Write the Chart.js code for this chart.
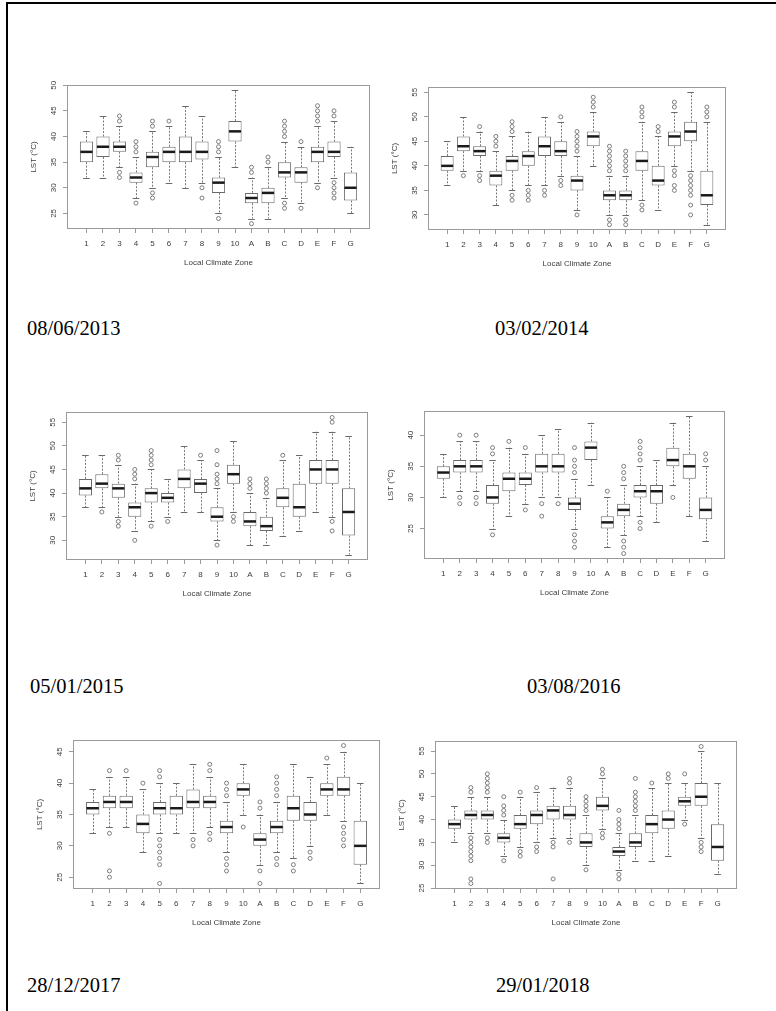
<!DOCTYPE html>
<html>
<head>
<meta charset="utf-8">
<script src="https://cdn.jsdelivr.net/npm/chart.js@4"></script>
<style>
  html, body { margin: 0; padding: 0; background: #fff; }
  body { width: 776px; height: 1011px; position: relative; overflow: hidden; }
  #ruleTop { position: absolute; left: 6px; top: 2px; width: 770px; height: 2px; background: #000; }
  #ruleLeft { position: absolute; left: 6px; top: 2px; width: 2px; height: 1009px; background: #000; }
  canvas.panel { position: absolute; filter: blur(0.3px); }
  .date { position: absolute; font-family: "Liberation Serif", "Times New Roman", serif; font-size: 20.5px; line-height: 20.5px; color: #000; white-space: nowrap; }
</style>
</head>
<body>
<div id="ruleTop"></div>
<div id="ruleLeft"></div>

<script>
// Local climate zones on the x axis
const zones = ['1', '2', '3', '4', '5', '6', '7', '8', '9', '10', 'A', 'B', 'C', 'D', 'E', 'F', 'G'];

// Land surface temperature per zone: [lower whisker, Q1, median, Q3, upper whisker]
const lst20130608 = [
  [32, 35, 37, 39, 41], [32, 36, 38, 40, 44], [34, 37, 38, 39, 42], [28, 31, 32, 33, 36],
  [30, 34, 36, 37, 41], [31, 35, 37, 38, 42], [30, 35, 37, 40, 46], [31, 35.5, 37, 39, 44],
  [25, 29, 31, 32, 36], [34, 39, 41, 43, 49], [24, 27, 28, 29, 32], [24, 27, 29, 30, 34],
  [28, 32, 33, 35, 39], [27, 31, 33, 34, 38], [31, 35, 37, 38, 42], [32, 36, 37, 39, 43],
  [25, 27.5, 30, 33, 38]
];
const out20130608 = [
  [], [], [44, 43, 33, 32], [39, 38, 37, 27], [43, 42, 29, 28], [43], [], [30, 28],
  [39, 38, 37, 24], [], [34, 33, 23], [36, 35], [43, 42, 41, 40, 27, 26], [39, 26],
  [46, 45, 44, 43, 30], [45, 44, 31, 30, 29, 28], []
];

const lst20140203 = [
  [36, 39, 40, 42, 45], [39, 43, 44, 46, 50], [39, 42, 43, 44, 47], [32, 36, 38, 39, 43],
  [35, 39, 41, 42, 46], [36, 40, 42, 43, 47], [36, 42, 44, 46, 50], [38, 42, 43, 45, 49],
  [31, 35, 37, 38, 42], [40, 44, 46, 47, 51], [30, 33, 34, 35, 38], [30, 33, 34, 35, 38],
  [33, 39, 41, 43, 49], [31, 36, 37, 40, 46], [40, 44, 46, 47, 51], [39, 45, 47, 49, 55],
  [28, 32, 34, 39, 49]
];
const out20140203 = [
  [], [38], [48, 38, 37], [46, 45, 44], [49, 48, 47, 34, 33], [35, 34, 33], [35, 34],
  [50, 37, 36], [47, 46, 45, 44, 43, 30], [54, 53, 52], [44, 43, 42, 41, 40, 39, 29, 28],
  [43, 42, 41, 40, 39, 29, 28], [52, 51, 50, 32, 31], [48, 47], [53, 52, 39, 38, 36, 35],
  [38, 37, 36, 35, 34, 32, 30], [52, 51, 50]
];

const lst20150105 = [
  [37, 39.5, 41, 43, 48], [37, 41, 42, 44, 48], [35, 39, 41, 42, 46], [32, 35, 37, 38, 42],
  [34, 38, 40, 41, 45], [35, 38, 39, 40, 43], [36, 41, 43, 45, 50], [36, 40, 42, 43, 47],
  [30, 34, 35, 37, 41], [36, 42, 44, 46, 51], [29, 33, 34, 36, 40], [29, 32, 33, 35, 39],
  [31, 37, 39, 41, 47], [32, 35, 37, 42, 48], [36, 42, 45, 47, 53], [35, 42, 45, 47, 53],
  [27, 31, 36, 41, 52]
];
const out20150105 = [
  [], [36], [48, 47, 34, 33], [45, 44, 43, 30], [49, 48, 47, 46, 33], [34], [], [48],
  [49, 46, 44, 43, 42, 29], [35, 34], [43, 42, 41], [43, 42, 41, 40], [48], [], [],
  [56, 55, 34, 32], []
];

const lst20160803 = [
  [30, 33, 34, 35, 37], [31, 34, 35, 36, 39], [31, 34, 35, 36, 39], [25, 29, 30, 32, 36],
  [27, 31, 33, 34, 38], [29, 32, 33, 34, 37], [30, 34, 35, 37, 40], [30, 34, 35, 37, 41],
  [25, 28, 29, 30, 33], [32, 36, 38, 39, 42], [22, 25, 26, 27, 30], [24, 27, 28, 29, 32],
  [27, 30, 31, 32, 35], [26, 29, 31, 32, 36], [32, 35, 36, 38, 42], [27, 33, 35, 37, 43],
  [23, 26.5, 28, 30, 35]
];
const out20160803 = [
  [], [40, 30, 29], [40, 30, 29], [38, 37, 24], [39], [38, 28], [29, 27], [29],
  [38, 36, 35, 34, 24, 23, 22], [], [31], [35, 34, 33, 23, 22, 21], [39, 38, 37, 36, 26, 25],
  [], [30], [], [37, 36]
];

const lst20171228 = [
  [32, 35, 36, 37, 39], [33, 36, 37, 38, 41], [33, 36, 37, 38, 41], [29, 32, 33.5, 35, 39],
  [32, 35, 36, 37, 40], [32, 35, 36, 38, 40], [32, 36, 37, 39, 43], [33, 36, 37, 38, 41],
  [29, 32, 33, 34, 37], [35, 38, 39, 40, 43], [27, 30, 31, 32, 35], [29, 32, 33, 34, 37],
  [28, 34, 36, 38, 43], [30, 34, 35, 37, 41], [35, 38, 39, 40, 43], [34, 38, 39, 41, 45],
  [24, 27, 30, 34, 40]
];
const out20171228 = [
  [], [42, 32, 26, 25], [42], [40], [42, 41, 31, 30, 29, 28, 27, 24], [], [31, 30],
  [43, 42, 32, 31], [40, 39, 38, 28, 27, 26], [33], [37, 36, 26, 24], [41, 40, 39, 38, 28, 27],
  [27, 26], [29, 28], [44], [46, 33, 32, 31, 30], []
];

const lst20180129 = [
  [35, 38, 39, 40, 43], [37, 40, 41, 42, 45], [37, 40, 41, 42, 45], [32, 35, 36, 37, 40],
  [34, 38, 39, 41, 45], [35, 39, 41, 42, 46], [36, 40, 42, 43, 47], [36, 40, 41, 43, 47],
  [30, 34, 35, 37, 41], [38, 42, 43, 45, 49], [29, 32, 33, 34, 37], [31, 34, 35, 37, 41],
  [31, 37, 39, 41, 47], [32, 38, 40, 42, 48], [40, 43, 44, 45, 48], [36, 43, 45, 48, 55],
  [28, 31, 34, 39, 48]
];
const out20180129 = [
  [], [47, 46, 36, 35, 34, 33, 32, 31, 27, 26], [50, 49, 48, 47, 46, 36, 35],
  [45, 43, 42, 41, 31], [46, 33, 32], [47, 34, 33], [35, 34, 27], [49, 48, 35],
  [45, 44, 43, 42, 29], [51, 50, 37, 36], [42, 40, 39, 38, 28, 27],
  [49, 46, 45, 44, 43, 42], [48], [50, 49], [50, 39], [56, 35, 34, 33], []
];

// y axis tick labels for each date
const ticks20130608 = [25, 30, 35, 40, 45, 50];
const ticks20140203 = [30, 35, 40, 45, 50, 55];
const ticks20150105 = [30, 35, 40, 45, 50, 55];
const ticks20160803 = [25, 30, 35, 40];
const ticks20171228 = [25, 30, 35, 40, 45];
const ticks20180129 = [25, 30, 35, 40, 45, 50, 55];

// Dates printed under each plot
const dateLabels = ['08/06/2013', '03/02/2014', '05/01/2015', '03/08/2016', '28/12/2017', '29/01/2018'];

// ---- styling ----
const FONT = '"Liberation Sans", Arial, sans-serif';
const TEXT = '#3c3c3c';
const FRAME = '#9a9a9a';
const BOXLINE = '#6a6a6a';
const WHISK = '#7a7a7a';
const MEDIAN = '#1a1a1a';
const OUTPT = '#707070';

// Plot-region rectangles on the page (left, top, right, bottom)
const panels = [
  { stats: lst20130608, out: out20130608, ticks: ticks20130608, box: [67, 85, 370, 229], date: [27, 318] },
  { stats: lst20140203, out: out20140203, ticks: ticks20140203, box: [428, 87, 726, 230], date: [495, 318] },
  { stats: lst20150105, out: out20150105, ticks: ticks20150105, box: [66, 412, 368, 560], date: [30, 676] },
  { stats: lst20160803, out: out20160803, ticks: ticks20160803, box: [424, 411, 725, 559], date: [527, 676] },
  { stats: lst20171228, out: out20171228, ticks: ticks20171228, box: [73, 740, 380, 889], date: [27, 975] },
  { stats: lst20180129, out: out20180129, ticks: ticks20180129, box: [435, 741, 737, 889], date: [496, 975] }
];

const PAD_L = 50, PAD_T = 10, PAD_R = 10, PAD_B = 45;

// Whiskers, staples, medians and the surrounding frame
function boxplotMarks(stats) {
  return {
    id: 'boxplotMarks',
    beforeDatasetsDraw(chart) {
      const { ctx, scales: { x, y } } = chart;
      ctx.save();
      ctx.lineWidth = 1;
      stats.forEach((s, i) => {
        const c = i + 1;
        const cx = Math.round(x.getPixelForValue(c)) + 0.5;
        ctx.strokeStyle = WHISK;
        ctx.setLineDash([2, 1.5]);
        ctx.beginPath();
        ctx.moveTo(cx, y.getPixelForValue(s[3]));
        ctx.lineTo(cx, y.getPixelForValue(s[4]));
        ctx.moveTo(cx, y.getPixelForValue(s[1]));
        ctx.lineTo(cx, y.getPixelForValue(s[0]));
        ctx.stroke();
        ctx.setLineDash([]);
        ctx.strokeStyle = BOXLINE;
        ctx.beginPath();
        [s[0], s[4]].forEach(v => {
          const py = Math.round(y.getPixelForValue(v)) + 0.5;
          ctx.moveTo(x.getPixelForValue(c - 0.2), py);
          ctx.lineTo(x.getPixelForValue(c + 0.2), py);
        });
        ctx.stroke();
      });
      ctx.restore();
    },
    afterDatasetsDraw(chart) {
      const { ctx, scales: { x, y } } = chart;
      ctx.save();
      ctx.strokeStyle = MEDIAN;
      ctx.lineWidth = 2.5;
      ctx.lineCap = 'butt';
      stats.forEach((s, i) => {
        const c = i + 1;
        const py = y.getPixelForValue(s[2]);
        ctx.beginPath();
        ctx.moveTo(x.getPixelForValue(c - 0.4) + 0.5, py);
        ctx.lineTo(x.getPixelForValue(c + 0.4) - 0.5, py);
        ctx.stroke();
      });
      ctx.restore();
    },
    afterDraw(chart) {
      const { ctx, chartArea: a } = chart;
      ctx.save();
      ctx.strokeStyle = FRAME;
      ctx.lineWidth = 1;
      ctx.strokeRect(Math.round(a.left) + 0.5, Math.round(a.top) + 0.5,
        Math.round(a.right - a.left) - 1, Math.round(a.bottom - a.top) - 1);
      ctx.restore();
    }
  };
}

function drawPanel(p, idx) {
  const [l, t, r, b] = p.box;
  const canvas = document.createElement('canvas');
  canvas.className = 'panel';
  const W = (r - l) + PAD_L + PAD_R;
  const H = (b - t) + PAD_T + PAD_B;
  canvas.width = W; canvas.height = H;
  canvas.style.width = W + 'px'; canvas.style.height = H + 'px';
  canvas.style.left = (l - PAD_L) + 'px';
  canvas.style.top = (t - PAD_T) + 'px';
  document.body.appendChild(canvas);

  // R-style ranges: data range widened by 4% on each side
  const n = zones.length;
  const all = [];
  p.stats.forEach((s, i) => { all.push(s[0], s[4]); p.out[i].forEach(v => all.push(v)); });
  const lo = Math.min(...all), hi = Math.max(...all);
  const ext = 0.04 * (hi - lo);

  const boxes = p.stats.map((s, i) => ({ x: i + 1, y: [s[1], s[3]] }));
  const pts = [];
  p.out.forEach((arr, i) => arr.forEach(v => pts.push({ x: i + 1, y: v })));

  new Chart(canvas, {
    type: 'bar',
    data: {
      datasets: [
        {
          type: 'bar', data: boxes, order: 2,
          backgroundColor: '#ffffff', borderColor: BOXLINE, borderWidth: 1,
          borderSkipped: false, barPercentage: 0.8, categoryPercentage: 1, grouped: false
        },
        {
          type: 'scatter', data: pts, order: 1,
          pointStyle: 'circle', pointRadius: 2, pointHoverRadius: 2,
          pointBackgroundColor: 'rgba(0,0,0,0)', pointBorderColor: OUTPT, pointBorderWidth: 0.9
        }
      ]
    },
    options: {
      responsive: false, animation: false, devicePixelRatio: 1,
      events: [],
      layout: { padding: { left: 0, top: PAD_T, right: PAD_R, bottom: 0 } },
      plugins: { legend: { display: false }, tooltip: { enabled: false } },
      scales: {
        x: {
          type: 'linear', offset: false,
          min: 0.5 - 0.04 * n, max: n + 0.5 + 0.04 * n,
          afterBuildTicks: s => { s.ticks = zones.map((z, i) => ({ value: i + 1 })); },
          afterFit: s => { s.height = PAD_B; },
          border: { display: false },
          grid: { drawOnChartArea: false, drawTicks: true, tickLength: 4, color: FRAME, offset: false },
          ticks: {
            autoSkip: false, minRotation: 0, maxRotation: 0, padding: 6,
            color: TEXT, font: { family: FONT, size: 8 },
            callback: (v, i) => zones[i]
          },
          title: {
            display: true, text: 'Local Climate Zone', color: TEXT,
            font: { family: FONT, size: 8 }, padding: { top: 0, bottom: 6 }
          }
        },
        y: {
          type: 'linear', min: lo - ext, max: hi + ext,
          afterBuildTicks: s => { s.ticks = p.ticks.map(v => ({ value: v })); },
          afterFit: s => { s.width = PAD_L; },
          border: { display: false },
          grid: { drawOnChartArea: false, drawTicks: true, tickLength: 4, color: FRAME },
          ticks: {
            minRotation: 90, maxRotation: 90, crossAlign: 'center', padding: 4.5,
            color: TEXT, font: { family: FONT, size: 8 }
          },
          title: {
            display: true, text: 'LST (°C)', color: TEXT,
            font: { family: FONT, size: 8 }, padding: { top: 12, bottom: 0 }
          }
        }
      }
    },
    plugins: [boxplotMarks(p.stats)]
  });

  const d = document.createElement('div');
  d.className = 'date';
  d.textContent = dateLabels[idx];
  d.style.left = p.date[0] + 'px';
  d.style.top = p.date[1] + 'px';
  document.body.appendChild(d);
}

panels.forEach(drawPanel);
</script>
</body>
</html>
